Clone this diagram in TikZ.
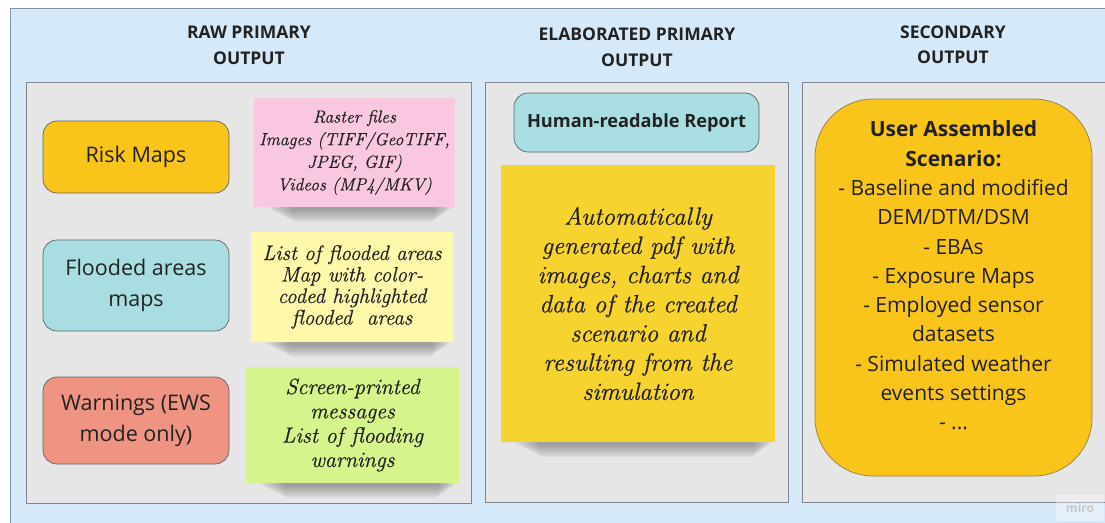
\documentclass[tikz,border=0pt]{standalone}
\usepackage{fontspec}
\setmainfont{Open Sans}
\newfontfamily\handfont[FakeBold=0.6]{Latin Modern Roman}
\usetikzlibrary{calc}
\definecolor{bluebg}{HTML}{D6E9F8}
\definecolor{blueline}{HTML}{8391A0}
\definecolor{panelgray}{HTML}{E6E6E6}
\definecolor{panelline}{HTML}{7D8590}
\definecolor{riskc}{HTML}{F9C51B}
\definecolor{tealc}{HTML}{A8DEE2}
\definecolor{salmonc}{HTML}{EF9382}
\definecolor{pinkc}{HTML}{F9C8E0}
\definecolor{paleyel}{HTML}{FEF8AA}
\definecolor{greenc}{HTML}{D6F48C}
\definecolor{yelc}{HTML}{F6D32E}
\definecolor{pilline}{HTML}{5C6168}
\definecolor{txt}{HTML}{222222}
\pgfdeclarelayer{bg}
\pgfdeclarelayer{shadowlayer}
\pgfsetlayers{bg,shadowlayer,main}
\tikzset{
  panel/.style={draw=panelline, fill=panelgray, line width=0.9pt},
  pill/.style={draw=pilline, rounded corners=14pt, line width=0.7pt, align=center, text=txt, inner sep=0pt},
  pilltext/.style={font=\fontsize{21.5}{30.5}\selectfont},
  sticky/.style={align=center, text=txt, inner sep=0pt},
  header/.style={font=\bfseries\fontsize{17.5}{25.5}\selectfont, align=center, text=txt},
}
\newcommand\stickyshadow[1]{%
  \foreach \i in {0,...,11}{%
    \fill[black, opacity=0.028, rounded corners=5pt]
      ($(#1.south west)+(14+2.2*\i,-4)$) rectangle ($(#1.south east)+(-3-1.6*\i,3+1.1*\i)$);
  }%
}
\begin{document}
\begin{tikzpicture}[x=1pt, y=-1pt]
\useasboundingbox (0,0) rectangle (1105,522);
\begin{pgfonlayer}{bg}
\fill[white] (0,0) rectangle (1105,522);
\draw[fill=bluebg, draw=blueline, line width=0.9pt] (10,8) rectangle (1115,535);
\draw[panel] (26,82) rectangle (471,503);
\draw[panel] (485,82) rectangle (788,502);
\draw[panel] (802,82) rectangle (1115,502);
\end{pgfonlayer}

% headers
\node[header] (h1) at (249,45.5) {RAW PRIMARY\\OUTPUT};
\node[header] (h2) at (637,47) {ELABORATED PRIMARY\\OUTPUT};
\node[header] (h3) at (953,44.5) {SECONDARY\\OUTPUT};

% left column pills
\node[pill, pilltext, fill=riskc, minimum width=186pt, minimum height=72pt] (risk) at (136,157) {Risk Maps};
\node[pill, pilltext, fill=tealc, minimum width=186pt, minimum height=91pt] (flood) at (136,285.5) {Flooded areas\\maps};
\node[pill, pilltext, fill=salmonc, minimum width=186pt, minimum height=87pt] (warn) at (136,420.5) {Warnings (EWS\\mode only)};

% sticky notes left
\node[sticky, fill=pinkc, minimum width=201pt, minimum height=109pt, font=\handfont\itshape\fontsize{17.5}{22.6}\selectfont] (pink) at (354.5,152.5)
  {Raster files\\Images (TIFF/GeoTIFF,\\JPEG, GIF)\\Videos (MP4/MKV)};
\node[sticky, fill=paleyel, minimum width=202pt, minimum height=110pt, font=\handfont\itshape\fontsize{21}{21.5}\selectfont] (pale) at (352,287)
  {List of flooded areas\\Map with color-\\coded highlighted\\flooded\ \ areas};
\node[sticky, fill=greenc, minimum width=213pt, minimum height=116pt, font=\handfont\itshape\fontsize{22}{24.3}\selectfont] (green) at (352.5,425)
  {Screen-printed\\messages\\List of flooding\\warnings};

% middle
\node[pill, fill=tealc, minimum width=245pt, minimum height=59pt, font=\bfseries\fontsize{18.2}{20}\selectfont] (report) at (636.5,122.5) {Human-readable Report};
\node[sticky, fill=yelc, minimum width=274pt, minimum height=277pt, font=\handfont\itshape\fontsize{25}{29.2}\selectfont] (auto) at (638,303.5)
  {Automatically\\generated pdf with\\images, charts and\\data of the created\\scenario and\\resulting from the\\simulation};

% right
\node[pill, fill=riskc, rounded corners=58pt, draw=pilline!70!riskc, minimum width=277pt, minimum height=377pt] (user) at (953.5,287.5) {};
\node[align=center, text=txt, font=\fontsize{21}{29.3}\selectfont, inner sep=0pt] (usertxt) at ($(user.center)+(0,-12)$)
  {\textbf{User Assembled}\\\textbf{Scenario:}\\- Baseline and modified\\DEM/DTM/DSM\\- EBAs\\- Exposure Maps\\- Employed sensor\\datasets\\- Simulated weather\\events settings\\- ...};

% watermark
\node[fill=white, fill opacity=0.35, text opacity=1, text=black!22, font=\bfseries\fontsize{12}{12}\selectfont, minimum width=48pt, minimum height=26pt] (miro) at (1080,508) {miro};

\begin{pgfonlayer}{shadowlayer}
\stickyshadow{pink}
\stickyshadow{pale}
\stickyshadow{green}
\stickyshadow{auto}
\end{pgfonlayer}
\end{tikzpicture}
\end{document}
